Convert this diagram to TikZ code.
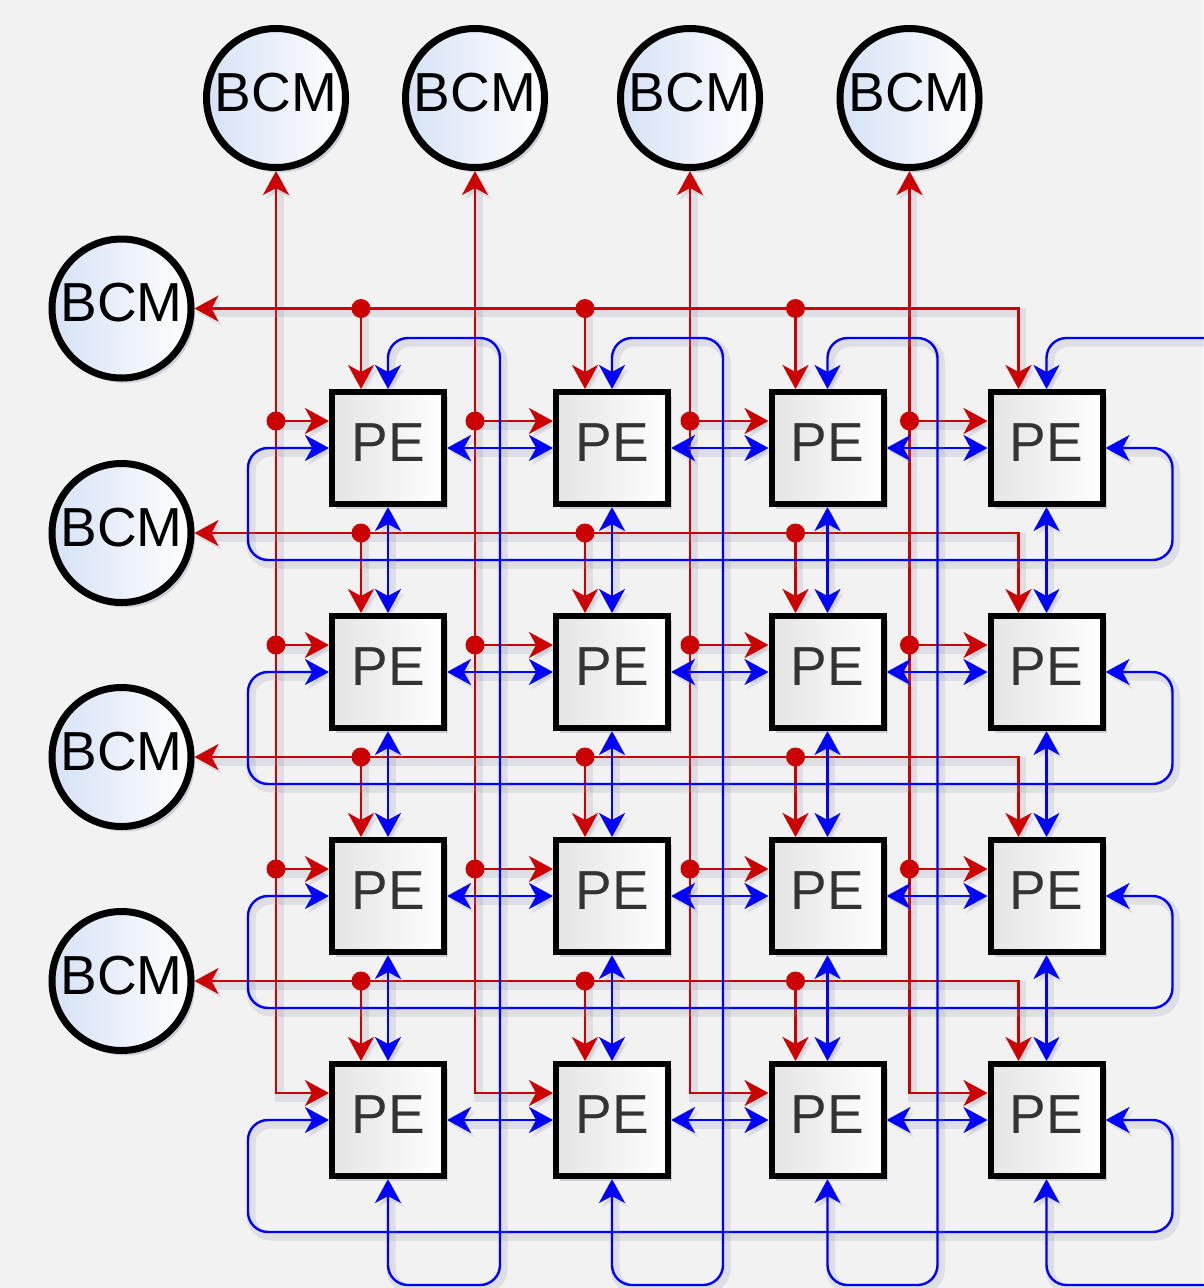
\documentclass[tikz,border=0pt]{standalone}
\usepackage{fontspec}
\setmainfont{Liberation Sans}
\usetikzlibrary{arrows.meta,shadows,calc}
\definecolor{bgc}{HTML}{F2F2F2}
\definecolor{rc}{HTML}{CC0000}
\definecolor{bc}{HTML}{0000FF}
\definecolor{pel}{HTML}{E4E4E4}
\definecolor{bcml}{HTML}{D6E2F6}
\definecolor{shc}{HTML}{8A93AD}
\definecolor{petext}{HTML}{333333}
\pgfdeclarelayer{bglayer}
\pgfdeclarelayer{linelayer}
\pgfsetlayers{bglayer,linelayer,main}
\tikzset{
  Ar/.tip={Stealth[length=24pt,width=26pt,inset=7pt]},
  nshadow/.style={drop shadow={shadow xshift=4pt,shadow yshift=-5pt,fill=shc,opacity=0.35}},
  pebox/.style={draw=black,line width=6pt,rectangle,minimum width=112pt,minimum height=112pt,inner sep=0pt,
    left color=pel,right color=white,text=petext,font=\fontsize{55}{60}\selectfont,
    text height=40pt,text depth=14pt,nshadow},
  bcm/.style={draw=black,line width=7pt,circle,minimum size=139pt,inner sep=0pt,
    left color=bcml,right color=white,text=black,font=\fontsize{55}{60}\selectfont,
    text height=40pt,text depth=14pt,nshadow},
  lshadow/.style={preaction={draw=shc,opacity=0.2,line width=9pt,transform canvas={shift={(3pt,-4pt)}}}},
  rline/.style={draw=rc,line width=2.4pt,lshadow},
  bline/.style={draw=bc,line width=2.4pt,lshadow,rounded corners=20pt},
}
\begin{document}
\begin{tikzpicture}[x=1pt,y=-1pt]
\path[use as bounding box] (0,0) rectangle (1203,1288);
\clip (0,0) rectangle (1203,1288);
\begin{pgfonlayer}{bglayer}
\fill[bgc] (0,0) rectangle (1203,1288);
\end{pgfonlayer}
% PE nodes
\foreach \c/\x in {1/388,2/612,3/827.5,4/1046.5}
  \foreach \r/\y in {1/448,2/672,3/896,4/1120}
    \node[pebox] (p-\r-\c) at (\x,\y) {PE};
% BCM nodes
\foreach \c/\x in {1/276,2/475,3/690,4/909.5}
  \node[bcm] (t-\c) at (\x,98) {BCM};
\foreach \r/\y in {1/308.5,2/533,3/757,4/981}
  \node[bcm] (l-\r) at (121.5,\y) {BCM};
% entry coordinates
\foreach \r in {1,...,4}
  \foreach \c/\rx in {1/-27,2/-27,3/-32,4/-28} {
    \coordinate (pt-\r-\c) at ([xshift=\rx pt]p-\r-\c.north);
    \coordinate (pl-\r-\c) at ([yshift=27pt]p-\r-\c.west);
  }
\begin{pgfonlayer}{linelayer}
% red buses from top BCMs
\foreach \c in {1,...,4} {
  \draw[rline,Ar-Ar] (t-\c.south) |- (pl-4-\c);
  \foreach \r in {1,2,3} {
    \draw[rline,-Ar] (t-\c.south |- pl-\r-\c) -- (pl-\r-\c);
    \fill[rc] (t-\c.south |- pl-\r-\c) circle (9.5pt);
  }
}
% red buses from left BCMs
\foreach \r in {1,...,4} {
  \draw[rline,Ar-Ar] (l-\r.east) -| (pt-\r-4);
  \foreach \c in {1,2,3} {
    \draw[rline,-Ar] (pt-\r-\c |- l-\r.east) -- (pt-\r-\c);
    \fill[rc] (pt-\r-\c |- l-\r.east) circle (9.5pt);
  }
}
% blue horizontal links and row wraps
\foreach \r in {1,...,4} {
  \foreach \c/\n in {1/2,2/3,3/4}
    \draw[bline,Ar-Ar] (p-\r-\c.east) -- (p-\r-\n.west);
  \draw[bline,Ar-Ar] (p-\r-1.west) -- ++(-81pt,0) -- ++(0,-112pt) -| ([xshift=67pt]p-\r-4.east) -- (p-\r-4.east);
}
% blue vertical links and column wraps
\foreach \c in {1,...,4} {
  \foreach \r/\n in {1/2,2/3,3/4}
    \draw[bline,Ar-Ar] (p-\r-\c.south) -- (p-\n-\c.north);
}
\foreach \c/\w in {1/112,2/111,3/110,4/220}
  \draw[bline,Ar-Ar] (p-1-\c.north) -- ++(0,51pt) -- ++(\w pt,0) |- ([yshift=-106pt]p-4-\c.south) -- (p-4-\c.south);
\end{pgfonlayer}
\end{tikzpicture}
\end{document}
